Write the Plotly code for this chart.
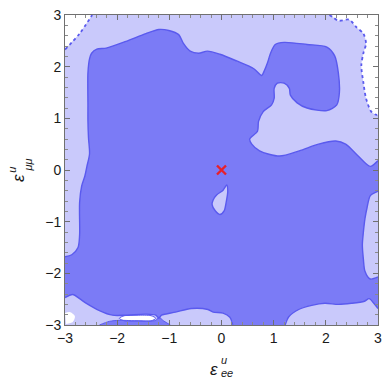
import plotly.graph_objects as go

AXIS_MIN, AXIS_MAX = -3.0, 3.0
TICKS = [-3, -2, -1, 0, 1, 2, 3]

# ---- contour boundaries (data coordinates) ----
# inner (dark) region boundary, from the left edge round the top to the right edge
dark_x = [-3.0, -2.87, -2.75, -2.72, -2.72, -2.68, -2.62, -2.58, -2.53, -2.55, -2.56, -2.56, -2.56,
          -2.53, -2.49, -2.39, -2.21, -1.83, -1.45, -1.20, -1.01, -0.82, -0.73, -0.60, -0.44, -0.27,
          -0.03, 0.29, 0.62, 0.77, 0.82, 0.88, 0.94, 1.03, 1.20, 1.64, 2.02, 2.17, 2.24, 2.26, 2.21,
          2.02, 1.64, 1.45, 1.32, 1.30, 1.20, 1.07, 1.01, 1.01, 0.96, 0.80, 0.71, 0.69, 0.54, 0.58,
          0.73, 1.11, 1.49, 1.86, 2.19, 2.38, 2.62, 2.85, 3.0]
dark_y = [-1.68, -1.64, -1.50, -1.26, -0.63, -0.31, -0.12, 0.07, 0.31, 0.63, 0.94, 1.26, 1.88,
          2.15, 2.26, 2.34, 2.36, 2.49, 2.64, 2.72, 2.70, 2.62, 2.45, 2.30, 2.26, 2.30,
          2.24, 2.11, 1.96, 1.83, 1.92, 2.07, 2.26, 2.43, 2.47, 2.43, 2.38, 2.21, 1.88, 1.50, 1.26,
          1.15, 1.20, 1.30, 1.45, 1.58, 1.68, 1.68, 1.58, 1.39, 1.26, 1.13, 0.94, 0.75, 0.60, 0.50,
          0.37, 0.27, 0.37, 0.50, 0.56, 0.50, 0.27, 0.07, 0.18]

# light islands inside the inner region
right_island_x = [3.0, 2.94, 2.85, 2.79, 2.75, 2.72, 2.70, 2.72, 2.75, 2.85, 3.0]
right_island_y = [-0.41, -0.44, -0.50, -0.73, -0.94, -1.20, -1.45, -1.73, -1.96, -2.11, -2.07]

origin_island_x = [0.10, 0.03, -0.09, -0.16, -0.18, -0.12, -0.03, 0.05, 0.09, 0.12, 0.10]
origin_island_y = [-0.29, -0.39, -0.48, -0.58, -0.67, -0.79, -0.86, -0.79, -0.62, -0.41, -0.29]

bottom_right_x = [3.0, 2.92, 2.83, 2.74, 2.49, 2.24, 1.98, 1.73, 1.48, 1.29, 1.22]
bottom_right_y = [-2.68, -2.58, -2.49, -2.54, -2.58, -2.60, -2.58, -2.62, -2.70, -2.84, -3.0]

bottom_left_x = [-3.0, -2.85, -2.72, -2.59, -2.34, -2.09, -1.83, -1.45, -1.26, -1.20, -1.15,
                 -0.88, -0.58, -0.26, -0.16, 0.03, 0.16, 0.22]
bottom_left_y = [-2.47, -2.41, -2.49, -2.58, -2.72, -2.81, -2.81, -2.79, -2.81, -2.87, -2.81,
                 -2.75, -2.68, -2.70, -2.75, -2.77, -2.85, -3.0]

# thin inner strip along the lower edge
bottom_strip_x = [-2.34, -2.15, -1.96, -1.58, -1.26, -1.20, -1.11, -0.98]
bottom_strip_y = [-3.0, -2.93, -2.91, -2.92, -2.91, -2.85, -2.92, -3.0]

# regions outside both contours (white)
top_left_white_x = [-3.0, -2.72, -2.48]
top_left_white_y = [2.33, 2.64, 3.0]

top_right_white_x = [2.07, 2.13, 2.24, 2.45, 2.58, 2.72, 2.77, 2.72, 2.68, 2.72, 2.77, 2.87, 2.96, 3.0]
top_right_white_y = [3.0, 2.96, 2.89, 2.91, 2.77, 2.64, 2.45, 2.26, 2.02, 1.69, 1.39, 1.13, 1.07, 1.07]

corner_white_x = [-3.0, -2.91, -2.81, -2.85, -2.98]
corner_white_y = [-2.77, -2.75, -2.83, -2.94, -2.98]

ellipse_white_x = [-1.96, -1.86, -1.62, -1.35, -1.26, -1.35, -1.62, -1.86, -1.96]
ellipse_white_y = [-2.87, -2.82, -2.81, -2.82, -2.87, -2.92, -2.92, -2.92, -2.87]

best_fit_x = [0.0]
best_fit_y = [0.0]

DARK = "#7b7bf6"
LIGHT = "#c9c9fb"
EDGE = "#5a5aee"
WHITE = "#ffffff"

fig = go.Figure()


def fill(xs, ys, color, shape="spline"):
    fig.add_trace(go.Scatter(x=xs, y=ys, mode="lines", fill="toself", fillcolor=color,
                             line=dict(width=0, color=color, shape=shape, smoothing=0.8),
                             hoverinfo="skip", showlegend=False))


def edge(xs, ys, dash="solid", width=1.4):
    fig.add_trace(go.Scatter(x=xs, y=ys, mode="lines",
                             line=dict(color=EDGE, width=width, dash=dash, shape="spline", smoothing=0.8),
                             hoverinfo="skip", showlegend=False))


# inner region: boundary closed along the right, bottom edges
fill(dark_x + [AXIS_MAX, AXIS_MAX, AXIS_MIN, AXIS_MIN], dark_y + [AXIS_MIN, AXIS_MIN, AXIS_MIN, AXIS_MIN], DARK)
fill(right_island_x, right_island_y, LIGHT)
fill(origin_island_x, origin_island_y, LIGHT)
fill(bottom_right_x + [AXIS_MAX, AXIS_MAX], bottom_right_y + [AXIS_MIN, AXIS_MIN], LIGHT)
fill(bottom_left_x + [AXIS_MIN, AXIS_MIN], bottom_left_y + [AXIS_MIN, AXIS_MIN], LIGHT)
fill(bottom_strip_x, bottom_strip_y, DARK)
fill(top_left_white_x + [AXIS_MIN], top_left_white_y + [AXIS_MAX], WHITE, shape="linear")
fill(top_right_white_x + [AXIS_MAX, AXIS_MAX], top_right_white_y + [AXIS_MAX, AXIS_MAX], WHITE)
fill(corner_white_x, corner_white_y, WHITE)
fill(ellipse_white_x, ellipse_white_y, WHITE)

edge(dark_x, dark_y)
edge(right_island_x, right_island_y)
edge(origin_island_x, origin_island_y)
edge(bottom_right_x, bottom_right_y)
edge(bottom_left_x, bottom_left_y)
edge(bottom_strip_x, bottom_strip_y, width=1.0)
edge(ellipse_white_x, ellipse_white_y, width=1.0)
edge(top_left_white_x, top_left_white_y, dash="dot", width=1.8)
edge(top_right_white_x, top_right_white_y, dash="dot", width=1.8)

fig.add_trace(go.Scatter(x=best_fit_x, y=best_fit_y, mode="markers",
                         marker=dict(symbol="x-thin", size=9, line=dict(width=2.4, color="#e8202a")),
                         hoverinfo="skip", showlegend=False))

axis_common = dict(
    range=[AXIS_MIN, AXIS_MAX], tickvals=TICKS, ticktext=[str(t).replace("-", "\u2212") for t in TICKS],
    showgrid=False, zeroline=False, showline=True, linecolor="#707070", linewidth=1,
    mirror="allticks", ticks="inside", ticklen=5, tickcolor="#707070", tickwidth=1,
    minor=dict(ticks="inside", dtick=0.2, ticklen=3, tickcolor="#8a8a8a", tickwidth=1),
    tickfont=dict(family="Liberation Sans", size=14, color="#1a1a1a"),
    ticklabeloverflow="allow",
    fixedrange=True,
)

fig.update_layout(
    width=389, height=383,
    margin=dict(l=65, r=7, t=8, b=58),
    plot_bgcolor=LIGHT, paper_bgcolor="white",
    xaxis=axis_common, yaxis=axis_common,
    showlegend=False,
)

lab_font = dict(family="Liberation Sans", color="#1a1a1a")
ann = [
    dict(text="<i>\u03b5</i>", x=0.476, y=-0.142, size=17, angle=0),
    dict(text="<i>u</i>", x=0.508, y=-0.112, size=11, angle=0),
    dict(text="<i>ee</i>", x=0.519, y=-0.155, size=11, angle=0),
    dict(text="<i>\u03b5</i>", x=-0.148, y=0.473, size=17, angle=-90),
    dict(text="<i>u</i>", x=-0.170, y=0.500, size=11, angle=-90),
    dict(text="<i>\u03bc\u03bc</i>", x=-0.118, y=0.515, size=11, angle=-90),
]
for a in ann:
    fig.add_annotation(text=a["text"], x=a["x"], y=a["y"], xref="paper", yref="paper",
                       showarrow=False, textangle=a["angle"], xanchor="center", yanchor="middle",
                       font=dict(size=a["size"], **lab_font))

fig.write_html("out.html")
